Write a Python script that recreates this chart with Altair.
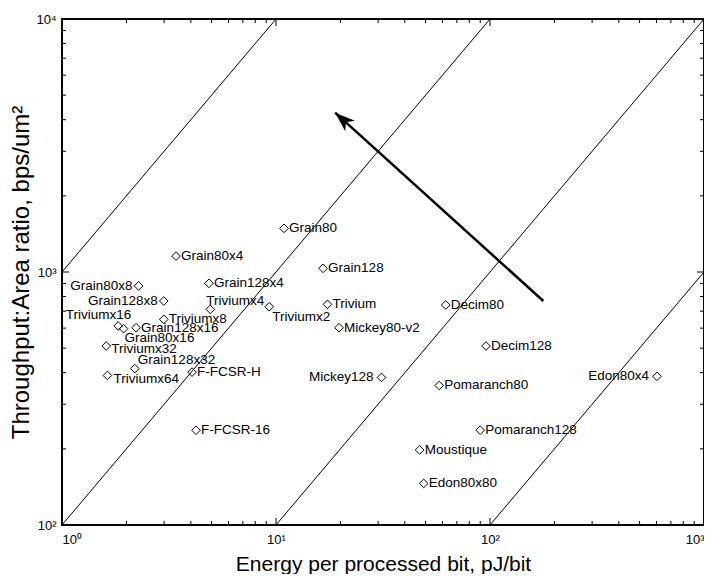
import altair as alt
import pandas as pd

# ---- data ----
names = ["Grain80x8", "Grain128x8", "Triviumx16", "Grain80x16", "Grain128x16",
         "Triviumx8", "Triviumx4", "Triviumx2", "Grain128x4", "Grain80x4",
         "Triviumx32", "Grain128x32", "Triviumx64", "F-FCSR-H", "F-FCSR-16",
         "Grain80", "Grain128", "Trivium", "Mickey80-v2", "Decim80", "Decim128",
         "Mickey128", "Pomaranch80", "Edon80x4", "Pomaranch128", "Moustique",
         "Edon80x80"]
energy = [2.28, 2.99, 1.83, 1.94, 2.22,
          2.99, 4.93, 9.30, 4.86, 3.41,
          1.61, 2.19, 1.63, 4.05, 4.23,
          10.9, 16.6, 17.4, 19.7, 62.1, 95.8,
          31.1, 57.9, 603, 90.0, 46.9,
          49.0]
ratio = [881, 768, 612, 597, 602,
         650, 712, 729, 902, 1156,
         510, 415, 390, 402, 237,
         1488, 1034, 745, 602, 741, 510,
         383, 356, 387, 237, 198,
         146]

# constant throughput-per-energy guide lines (ratio / energy)
guide_k = [1000, 100, 10, 1]

# arrow annotation: tail and head
arrow_energy = [177.5, 18.9]
arrow_ratio = [768, 4265]

x_ticks_major = [10, 100]
x_ticks_minor = [2, 3, 4, 5, 6, 7, 8, 9, 20, 30, 40, 50, 60, 70, 80, 90,
                 200, 300, 400, 500, 600, 700, 800, 900]
y_ticks_major = [1000]
y_ticks_minor = [200, 300, 400, 500, 600, 700, 800, 900,
                 2000, 3000, 4000, 5000, 6000, 7000, 8000, 9000]

# label placement (dx, dy, align); default is to the right of the marker
label_place = {
    "Grain80x8": (-6, 0, "right"),
    "Grain128x8": (-6, 0, "right"),
    "Triviumx16": (13, -11, "right"),
    "Grain80x16": (1, 9, "left"),
    "Triviumx4": (-4, -8, "left"),
    "Triviumx2": (3, 10, "left"),
    "Triviumx32": (5, 3, "left"),
    "Grain128x32": (3, -9, "left"),
    "Triviumx64": (6, 4, "left"),
    "Mickey128": (-8, 0, "right"),
    "Edon80x4": (-8, 0, "right"),
}
default_place = (5, 0, "left")

# ---- layout ----
W, H = 642, 506
FONT = "Liberation Sans"

points = pd.DataFrame({"name": names, "energy": energy, "ratio": ratio})

xs = alt.Scale(type="log", domain=[1, 1000], nice=False)
ys = alt.Scale(type="log", domain=[100, 10000], nice=False)

sup = "['\u2070','\u00b9','\u00b2','\u00b3','\u2074'][round(log(datum.value)/LN10)]"

x_axis = alt.Axis(values=[1, 10, 100, 1000], labelExpr="'10' + " + sup,
                  grid=False, ticks=False, domain=False, labelPadding=8,
                  labelFontSize=13, labelFont=FONT, labelColor="black",
                  title="Energy per processed bit, pJ/bit", titleFont=FONT,
                  titleFontSize=21, titleFontWeight="normal", titleColor="black",
                  titleX=W / 2, titleY=39, titleBaseline="middle")
y_axis = alt.Axis(values=[100, 1000, 10000], labelExpr="'10' + " + sup,
                  grid=False, ticks=False, domain=False, labelPadding=6,
                  labelFontSize=13, labelFont=FONT, labelColor="black",
                  title="Throughput:Area ratio, bps/um\u00b2", titleFont=FONT,
                  titleFontSize=24, titleFontWeight="normal", titleColor="black",
                  titleX=-41, titleY=H / 2, titleAngle=-90, titleBaseline="middle",
                  titleAlign="center")

# guide lines
rows = []
for k in guide_k:
    e0 = max(1, 100 / k)
    e1 = min(1000, 10000 / k)
    rows.append({"k": k, "energy": e0, "ratio": k * e0})
    rows.append({"k": k, "energy": e1, "ratio": k * e1})
guides = pd.DataFrame(rows)

guide_layer = alt.Chart(guides).mark_line(color="black", strokeWidth=1).encode(
    x=alt.X("energy:Q", scale=xs, axis=x_axis),
    y=alt.Y("ratio:Q", scale=ys, axis=y_axis),
    detail="k:N",
)

arrow_df = pd.DataFrame({"energy": arrow_energy, "ratio": arrow_ratio, "ord": [0, 1]})
arrow_line = alt.Chart(arrow_df).mark_line(color="black", strokeWidth=2.5).encode(
    x=alt.X("energy:Q", scale=xs), y=alt.Y("ratio:Q", scale=ys), order="ord:Q")
arrow_head = alt.Chart(arrow_df.iloc[[1]]).mark_point(
    shape="M0,0L0.36,1L0,0.72L-0.36,1Z", filled=True, color="black",
    size=1600, angle=312, opacity=1, strokeWidth=0).encode(
    x=alt.X("energy:Q", scale=xs), y=alt.Y("ratio:Q", scale=ys))

marks = alt.Chart(points).mark_point(shape="diamond", filled=False, color="black",
                                     size=75, strokeWidth=1, opacity=1).encode(
    x=alt.X("energy:Q", scale=xs), y=alt.Y("ratio:Q", scale=ys))

# labels grouped by placement
groups = {}
for n in names:
    groups.setdefault(label_place.get(n, default_place), []).append(n)
text_layers = []
for (dx, dy, al), members in groups.items():
    text_layers.append(
        alt.Chart(points).transform_filter(
            alt.FieldOneOfPredicate(field="name", oneOf=members)
        ).mark_text(dx=dx, dy=dy, align=al, baseline="middle", font=FONT,
                    fontSize=13.5, color="black").encode(
            x=alt.X("energy:Q", scale=xs), y=alt.Y("ratio:Q", scale=ys),
            text="name:N")
    )

# inward ticks on all four sides
def xtick(vals, length, top):
    df = pd.DataFrame({"v": vals})
    if top:
        yv, y2v = alt.value(0), alt.value(length)
    else:
        yv, y2v = alt.value(H), alt.value(H - length)
    return alt.Chart(df).mark_rule(color="black", strokeWidth=1).encode(
        x=alt.X("v:Q", scale=xs), y=yv, y2=y2v)

def ytick(vals, length, right):
    df = pd.DataFrame({"v": vals})
    if right:
        xv, x2v = alt.value(W), alt.value(W - length)
    else:
        xv, x2v = alt.value(0), alt.value(length)
    return alt.Chart(df).mark_rule(color="black", strokeWidth=1).encode(
        y=alt.Y("v:Q", scale=ys), x=xv, x2=x2v)

tick_layers = []
for side in (False, True):
    tick_layers.append(xtick(x_ticks_minor, 4, side))
    tick_layers.append(xtick(x_ticks_major, 7, side))
    tick_layers.append(ytick(y_ticks_minor, 4, side))
    tick_layers.append(ytick(y_ticks_major, 7, side))

chart = alt.layer(guide_layer, *tick_layers, arrow_line, arrow_head, marks,
                  *text_layers).properties(
    width=W, height=H,
    autosize=alt.AutoSizeParams(type="none"),
    padding={"left": 54, "top": 11, "right": 0, "bottom": 49},
    background="white",
).configure_view(stroke="black", strokeWidth=2)

chart.save("out.html", embed_options={"renderer": "svg", "actions": False})
